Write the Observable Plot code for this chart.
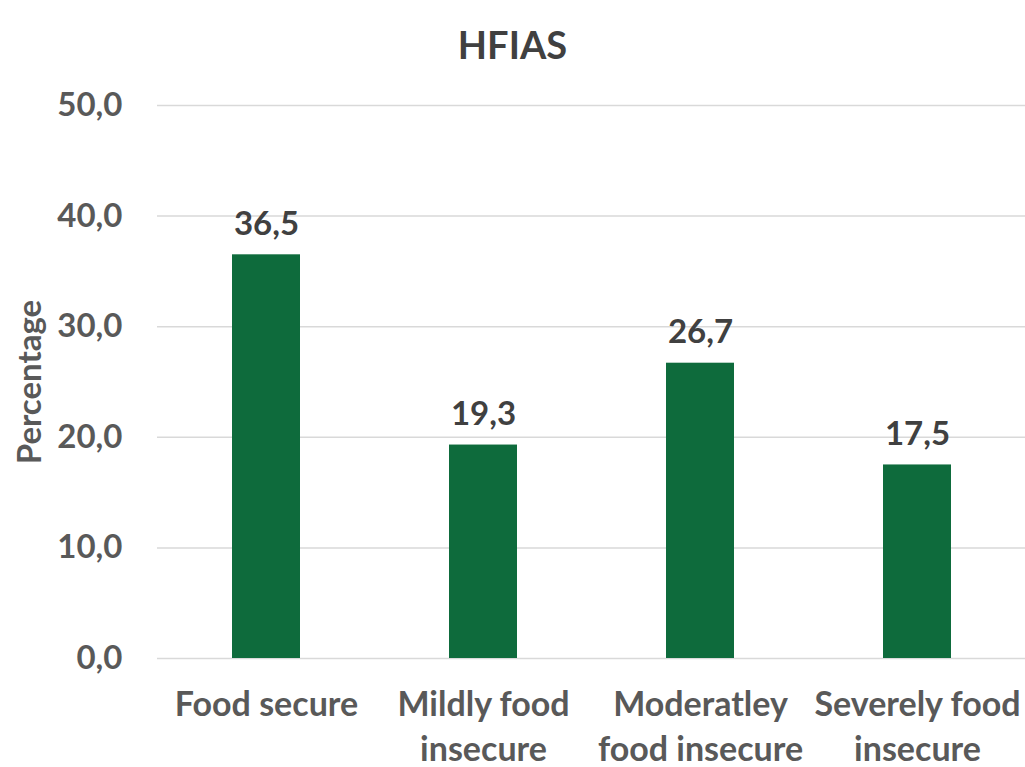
<!DOCTYPE html>
<html>
<head>
<meta charset="utf-8">
<script src="https://cdn.jsdelivr.net/npm/d3@7"></script>
<script src="https://cdn.jsdelivr.net/npm/@observablehq/plot@0.6"></script>
<style>
  html, body { margin: 0; padding: 0; background: #fff; }
  #wrap { position: relative; width: 1025px; height: 767px; overflow: hidden; font-family: Lato, "Open Sans", sans-serif; }
  #title { position: absolute; left: 0; top: 0; width: 1025px; height: 80px; text-align: center; line-height: 88px; font-size: 38px; font-weight: bold; color: #404040; }
  #chart { position: absolute; left: 0; top: 80px; }
</style>
</head>
<body>
<div id="wrap">
  <div id="title">HFIAS</div>
  <div id="chart"></div>
</div>
<script>
const categories = ["Food secure", "Mildly food insecure", "Moderatley food insecure", "Severely food insecure"];
const tickLabels = ["Food secure", "Mildly food\ninsecure", "Moderatley\nfood insecure", "Severely food\ninsecure"];
const values = [36.5, 19.3, 26.7, 17.5];
const yTicks = [0, 10, 20, 30, 40, 50];

const data = categories.map((c, i) => ({category: c, value: values[i]}));
const fmt = v => v.toFixed(1).replace(".", ",");

const chart = Plot.plot({
  width: 1025,
  height: 687,
  marginTop: 25,
  marginBottom: 109,
  marginLeft: 157,
  marginRight: 0,
  style: {fontFamily: "Lato, 'Open Sans', sans-serif", background: "#fff"},
  x: {domain: categories, paddingInner: 0.687, paddingOuter: 0.3435},
  y: {domain: [0, 50]},
  marks: [
    Plot.ruleY(yTicks, {stroke: "#d9d9d9", strokeWidth: 1.5}),
    Plot.barY(data, {x: "category", y: "value", fill: "#0e6b3c"}),
    Plot.text(data, {x: "category", y: "value", text: d => fmt(d.value), lineAnchor: "bottom", dy: -20, fontSize: 33, fontWeight: "bold", fill: "#404040"}),
    Plot.axisY({ticks: yTicks, tickFormat: fmt, tickSize: 0, tickPadding: 35, fontSize: 33, fontWeight: "bold", color: "#595959", label: null}),
    Plot.axisX({tickFormat: (d) => tickLabels[categories.indexOf(d)], tickSize: 0, tickPadding: 26, fontSize: 34, fontWeight: "bold", color: "#595959", lineHeight: 1.31, label: null}),
    Plot.text(["Percentage"], {frameAnchor: "left", dx: -127, rotate: -90, fontSize: 33, fontWeight: "bold", fill: "#595959", textAnchor: "middle"})
  ]
});
document.getElementById("chart").appendChild(chart);
</script>
</body>
</html>
